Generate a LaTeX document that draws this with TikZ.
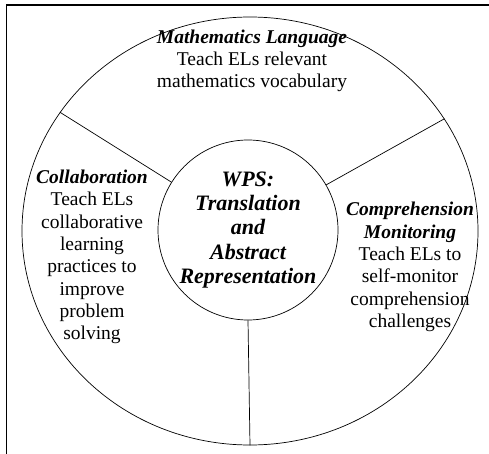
\documentclass[tikz,border=0pt]{standalone}
\usepackage{fontspec}
\setmainfont{Liberation Serif}
\usetikzlibrary{shapes.geometric}
\begin{document}
\begin{tikzpicture}[x=1pt,y=-1pt,
  frameline/.style={line width=1.5pt},
  divider/.style={line width=0.7pt},
  sect/.style={align=center,inner sep=0pt,font=\fontsize{19.5}{22.3}\selectfont},
  hub/.style={align=center,inner sep=0pt,font=\fontsize{22}{24.3}\selectfont\bfseries\itshape}]
\useasboundingbox (0,0) rectangle (489,454);
% frame (only top and left edges visible)
\coordinate (fbl) at (6.5,454);
\coordinate (ftl) at (6.5,5);
\coordinate (ftr) at (489,5);
\draw[frameline] (fbl) -- (ftl) -- (ftr);
% outer ellipse and inner circle
\node[draw,ellipse,divider,minimum width=456pt,minimum height=428pt,inner sep=0pt] (outer) at (250,231) {};
\node[draw,circle,divider,minimum size=180pt,inner sep=0pt] (hubc) at (248,230) {};
% dividers
\draw[divider] (hubc.148) -- (outer.148);
\draw[divider] (hubc.30) -- (outer.30);
\draw[divider] (hubc.270) -- (outer.270);
% texts
\node[hub] (hubt) at (248,230) {WPS:\\Translation\\and\\Abstract\\Representation};
\node[sect] (top) at (252,61) {{\bfseries\itshape Mathematics Language}\\Teach ELs relevant\\mathematics vocabulary};
\node[sect] (left) at (92,257) {{\bfseries\itshape Collaboration}\\Teach ELs\\collaborative\\learning\\practices to\\improve\\problem\\solving};
\node[sect] (right) at (410,267) {{\bfseries\itshape Comprehension}\\{\bfseries\itshape Monitoring}\\Teach ELs to\\self-monitor\\comprehension\\challenges};
\end{tikzpicture}
\end{document}
